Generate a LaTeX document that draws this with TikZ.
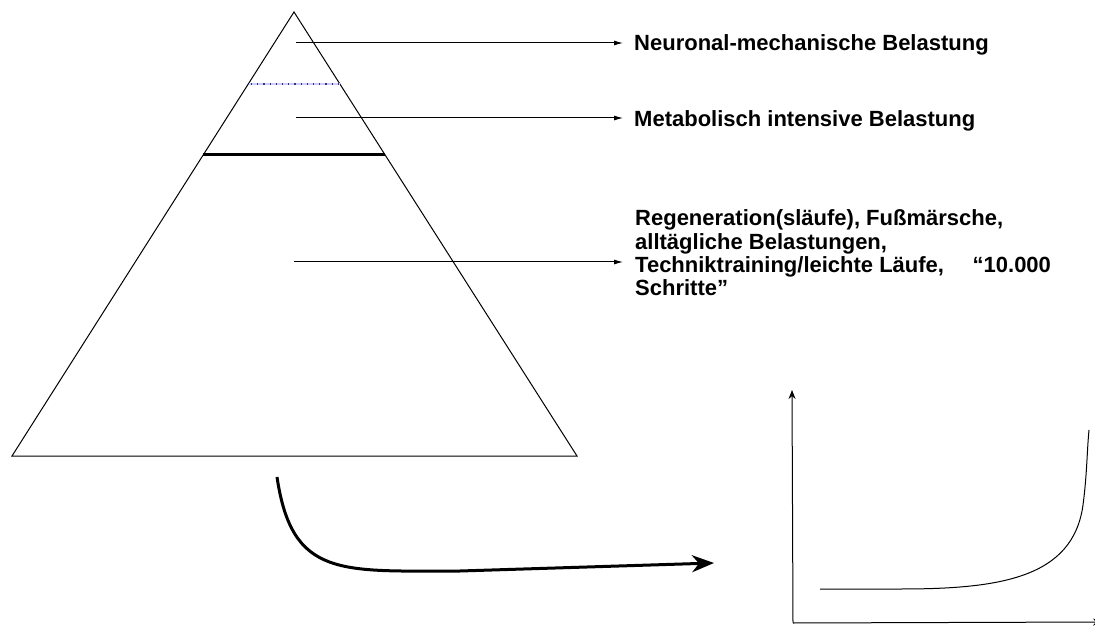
\documentclass[tikz,border=0pt]{standalone}
\usepackage{fontspec}
\setmainfont{Liberation Sans}
\usetikzlibrary{arrows.meta}
\begin{document}
\begin{tikzpicture}[x=1pt,y=-1pt,
  lbl/.style={font=\fontsize{22}{23.4}\selectfont\bfseries, anchor=west, align=left, inner sep=0pt},
  pointer/.style={-{Latex[length=9pt,width=5pt]}, line width=1pt},
  edge/.style={line width=1pt}]
\useasboundingbox (0,0) rectangle (1095,628);
% pyramid
\draw[edge] (12,456) -- (294,12) -- (577,456) -- cycle;
\draw[line width=3pt] (203,155) -- (385,155);
\draw[line width=1.2pt, blue!20] (249,84) -- (340,84);
\draw[line width=1.4pt, black!55!blue!60!gray, dash pattern=on 1.2pt off 5pt] (251,84) -- (340,84);
% labels
\node[lbl] (l1) at (634,45) {Neuronal-mechanische Belastung};
\node[lbl] (l2) at (634,121) {Metabolisch intensive Belastung};
\node[lbl] (l3) at (635,253) {Regeneration(släufe), Fußmärsche,\\alltägliche Belastungen,\\Techniktraining/leichte Läufe,\hspace{1.3em}“10.000\\Schritte”};
\coordinate (s1) at (296,43);
\coordinate (s2) at (296,118);
\coordinate (s3) at (294,262);
\coordinate (e3) at (623,262);
\draw[pointer] (s1) -- ([xshift=-11pt]l1.west |- s1);
\draw[pointer] (s2) -- ([xshift=-11pt]l2.west |- s2);
\draw[pointer] (s3) -- (e3);
% curved arrow
\coordinate (c0) at (277,477);
\coordinate (c1) at (714,563);
\draw[line width=3pt, -{Stealth[length=22pt,width=17pt,inset=7pt]}] (c0) .. controls (292,578) and (340,571) .. (460,571) -- (c1);
% graph
\coordinate (o) at (793,623);
\coordinate (yt) at (792,390);
\coordinate (xr) at (1102,622);
\draw[line width=1pt, -{Stealth[length=9pt,width=7pt]}] (o) -- (yt);
\draw[line width=1pt, -{Stealth[length=9pt,width=7pt]}] (o) -- (xr);
\draw[line width=1pt] (820,589) -- (900,589) .. controls (1000,589) and (1073,578) .. (1083,505) .. controls (1087,475) and (1087,450) .. (1089,430);
\end{tikzpicture}
\end{document}
